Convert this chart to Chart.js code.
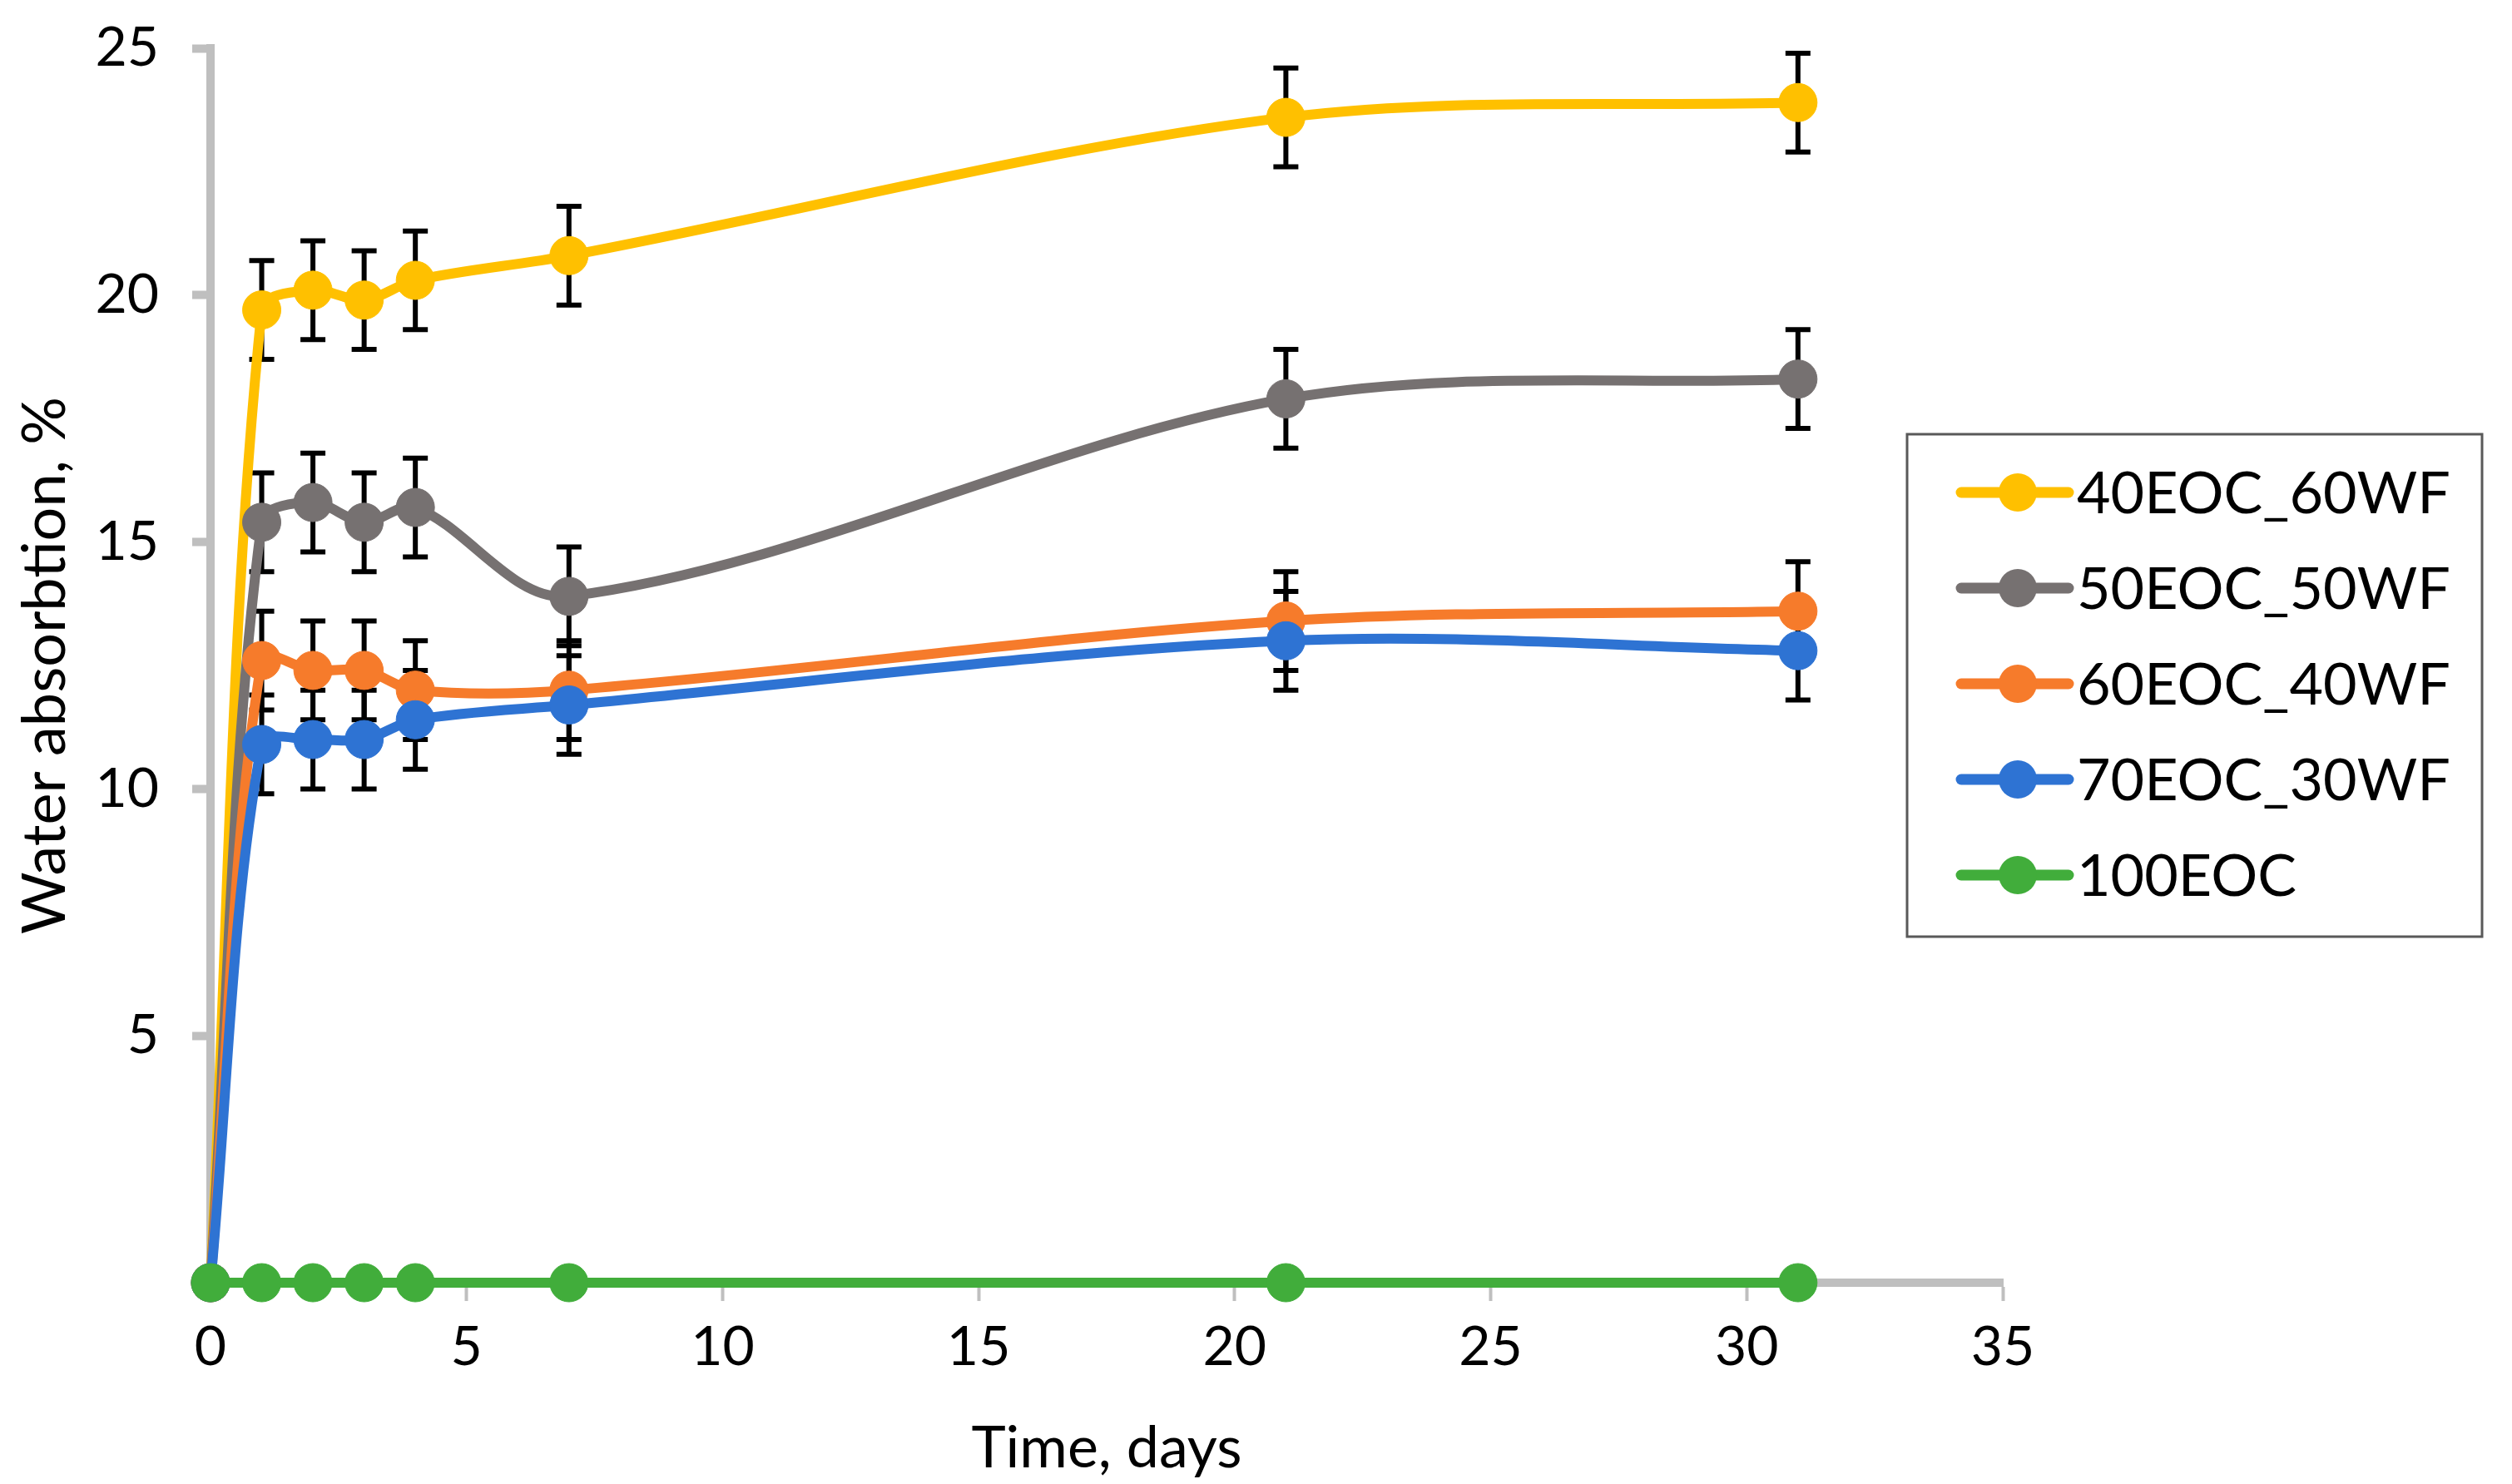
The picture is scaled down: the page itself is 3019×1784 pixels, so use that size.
<!DOCTYPE html>
<html lang="en">
<head>
  <meta charset="UTF-8">
  <title>Water absorption</title>
  <script src="https://cdn.jsdelivr.net/npm/chart.js"></script>
  <style>
    body {
      margin: 0;
      padding: 0;
      background-color: #fff;
    }
    canvas {
      display: block;
    }
  </style>
</head>
<body>
  <canvas id="waterChart" width="3019" height="1784"></canvas>

  <script>
    // Data
    const days = [0, 1, 2, 3, 4, 7, 21, 31];
    const labels = ['40EOC_60WF', '50EOC_50WF', '60EOC_40WF', '70EOC_30WF', '100EOC'];
    const eoc40 = [0, 19.7, 20.1, 19.9, 20.3, 20.8, 23.6, 23.9];
    const eoc50 = [0, 15.4, 15.8, 15.4, 15.7, 13.9, 17.9, 18.3];
    const eoc60 = [0, 12.6, 12.4, 12.4, 12.0, 12.0, 13.4, 13.6];
    const eoc70 = [0, 10.9, 11.0, 11.0, 11.4, 11.7, 13.0, 12.8];
    const eoc100 = [0, 0, 0, 0, 0, 0, 0, 0];
    const err40 = [0, 1, 1, 1, 1, 1, 1, 1];
    const err50 = [0, 1, 1, 1, 1, 1, 1, 1];
    const err60 = [0, 1, 1, 1, 1, 1, 1, 1];
    const err70 = [0, 1, 1, 1, 1, 1, 1, 1];
    const err100 = [0, 0, 0, 0, 0, 0, 0, 0];
    const xTicks = [0, 5, 10, 15, 20, 25, 30, 35];
    const yTicks = [5, 10, 15, 20, 25];

    const colors = ['#FFC000', '#767171', '#F67B2B', '#2E73D3', '#41AD3B'];
    const series = [eoc40, eoc50, eoc60, eoc70, eoc100];
    const errs = [err40, err50, err60, err70, err100];

    const FONT = 'Lato, "Open Sans", sans-serif';

    // Error bars, drawn under the lines and markers
    const errorBars = {
      id: 'errorBars',
      beforeDatasetsDraw(chart) {
        const ctx = chart.ctx;
        const xs = chart.scales.x, ys = chart.scales.y;
        ctx.save();
        ctx.strokeStyle = '#000';
        ctx.lineWidth = 6;
        chart.data.datasets.forEach(ds => {
          ds.data.forEach((p, i) => {
            const e = ds.errors[i];
            if (!e) return;
            const px = xs.getPixelForValue(p.x);
            const top = ys.getPixelForValue(p.y + e);
            const bot = ys.getPixelForValue(p.y - e);
            ctx.beginPath();
            ctx.moveTo(px, top); ctx.lineTo(px, bot);
            ctx.moveTo(px - 15, top); ctx.lineTo(px + 15, top);
            ctx.moveTo(px - 15, bot); ctx.lineTo(px + 15, bot);
            ctx.stroke();
          });
        });
        ctx.restore();
      }
    };

    // Boxed legend that sits beside the plot
    const boxLegend = {
      id: 'boxLegend',
      afterDraw(chart) {
        const ctx = chart.ctx;
        ctx.save();
        ctx.strokeStyle = '#595959';
        ctx.lineWidth = 3;
        ctx.strokeRect(2292, 522, 691, 604);
        chart.data.datasets.forEach((ds, i) => {
          const y = 592 + i * 115;
          ctx.strokeStyle = ds.borderColor;
          ctx.lineWidth = 13;
          ctx.lineCap = 'round';
          ctx.beginPath();
          ctx.moveTo(2357, y); ctx.lineTo(2486, y);
          ctx.stroke();
          ctx.fillStyle = ds.borderColor;
          ctx.beginPath();
          ctx.arc(2425, y, 23, 0, Math.PI * 2);
          ctx.fill();
          ctx.fillStyle = '#000';
          ctx.font = '70px ' + FONT;
          ctx.textBaseline = 'middle';
          ctx.fillText(ds.label, 2496, y + 2);
        });
        ctx.restore();
      }
    };

    const datasets = labels.map((label, i) => ({
      label: label,
      data: days.map((d, j) => ({ x: d, y: series[i][j] })),
      errors: errs[i],
      borderColor: colors[i],
      backgroundColor: colors[i],
      pointBackgroundColor: colors[i],
      pointBorderColor: colors[i],
      borderWidth: 12,
      pointRadius: 23,
      pointBorderWidth: 1,
      tension: 0.33,
      clip: false,
      order: labels.length - i
    }));

    new Chart(document.getElementById('waterChart').getContext('2d'), {
      type: 'line',
      data: { datasets: datasets },
      plugins: [errorBars, boxLegend],
      options: {
        responsive: false,
        devicePixelRatio: 1,
        animation: false,
        layout: { padding: { left: 0, top: 58, right: 612, bottom: 0 } },
        plugins: {
          legend: { display: false },
          tooltip: { enabled: false }
        },
        scales: {
          x: {
            type: 'linear',
            min: 0,
            max: 35,
            afterFit: s => { s.height = 242; },
            afterBuildTicks: s => { s.ticks = xTicks.map(v => ({ value: v })); },
            border: { display: true, color: '#BFBFBF', width: 10 },
            grid: { drawOnChartArea: false, drawTicks: true, tickLength: 22, tickWidth: 4, tickColor: '#BFBFBF' },
            ticks: { color: '#000', padding: 16, font: { family: FONT, size: 66 } },
            title: {
              display: true,
              text: 'Time, days',
              color: '#000',
              padding: { top: 0, bottom: 1 },
              font: { family: FONT, size: 70 }
            }
          },
          y: {
            min: 0,
            max: 25,
            afterFit: s => { s.width = 253; s.paddingTop = 0; s.paddingBottom = 0; },
            afterBuildTicks: s => { s.ticks = [0].concat(yTicks).map(v => ({ value: v })); },
            border: { display: true, color: '#BFBFBF', width: 10 },
            grid: { drawOnChartArea: false, drawTicks: true, tickLength: 22, tickWidth: 10, tickColor: '#BFBFBF' },
            ticks: {
              color: '#000',
              padding: 40,
              font: { family: FONT, size: 66 },
              callback: v => (v === 0 ? '' : v)
            },
            title: {
              display: true,
              text: 'Water absorbtion, %',
              color: '#000',
              padding: { top: 12, bottom: 0 },
              font: { family: FONT, size: 72 }
            }
          }
        }
      }
    });
  </script>
</body>
</html>
